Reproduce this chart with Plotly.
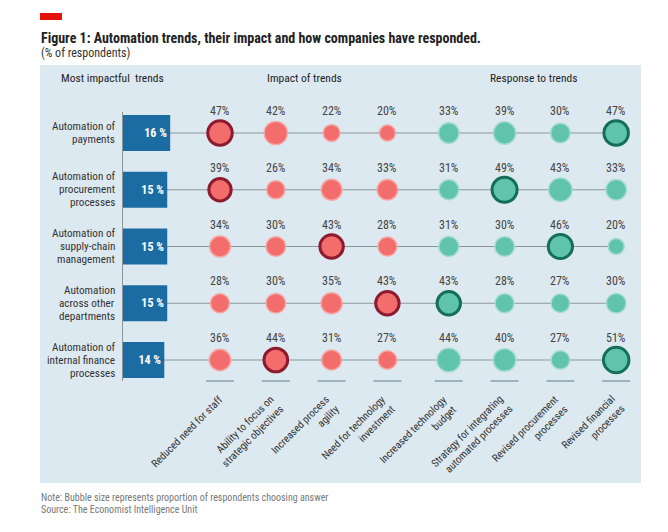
import plotly.graph_objects as go

# The page body has an 8px margin; figure is sized/placed to compensate.
PAGE_W, PAGE_H, OFF = 668, 532, 8
W, H = PAGE_W - 2 * OFF, PAGE_H - 2 * OFF
FONT = "Liberation Sans Narrow, Roboto Condensed, Lato, sans-serif"

# ---------------- data ----------------
row_labels = [
    ["Automation of", "payments"],
    ["Automation of", "procurement", "processes"],
    ["Automation of", "supply-chain", "management"],
    ["Automation", "across other", "departments"],
    ["Automation of", "internal finance", "processes"],
]
top_trend_pct = [16, 15, 15, 15, 14]

impact_cols = [
    "Reduced need for staff",
    "Ability to focus on<br>strategic objectives",
    "Increased process<br>agility",
    "Need for technology<br>investment",
]
response_cols = [
    "Increased technology<br>budget",
    "Strategy for integrating<br>automated processes",
    "Revised procurement<br>processes",
    "Revised financial<br>processes",
]
impact_vals = [
    [47, 42, 22, 20],
    [39, 26, 34, 33],
    [34, 30, 43, 28],
    [28, 30, 35, 43],
    [36, 44, 31, 27],
]
response_vals = [
    [33, 39, 30, 47],
    [31, 49, 43, 33],
    [31, 30, 46, 20],
    [43, 28, 27, 30],
    [44, 40, 27, 51],
]

headers = ["Most impactful  trends", "Impact of trends", "Response to trends"]
title = "Figure 1: Automation trends, their impact and how companies have responded."
subtitle = "(% of respondents)"
notes = ["Note: Bubble size represents proportion of respondents choosing answer",
         "Source: The Economist Intelligence Unit"]

# ---------------- styling ----------------
PANEL = "#dde9f1"
BAR = "#1c6ca4"
RED_FILL, RED_HALO, RED_DARK = "#f26d6c", "#f6a7a4", "#8d1b2f"
TEAL_FILL, TEAL_HALO, TEAL_DARK = "#5fc3ae", "#a3dbcd", "#146e5b"
LINE = "#8c959c"
GROUP_GAP = 0.1


def px(x):
    return (x - OFF) / W


def py(y):
    return 1 - (y - OFF) / H


n_rows = len(row_labels)
rows = list(range(n_rows))

fig = go.Figure()

groups = [
    (impact_cols, impact_vals, RED_FILL, RED_HALO, RED_DARK, 0.0),
    (response_cols, response_vals, TEAL_FILL, TEAL_HALO, TEAL_DARK, GROUP_GAP),
]
col_positions = []
col_names = []
start = 0
for cols, vals, fill, halo, dark, gap in groups:
    for j, c in enumerate(cols):
        col_positions.append(start + j + gap)
        col_names.append(c)
    start += len(cols)
last_x = col_positions[-1]

# connecting lines
for r in rows:
    fig.add_trace(go.Scatter(x=[-1.5, last_x], y=[r, r], mode="lines",
                             line=dict(color=LINE, width=1), hoverinfo="skip",
                             showlegend=False, xaxis="x", yaxis="y"))

K = 3.57  # px of diameter per sqrt(percent)
SIZEREF = 2 / K ** 2
annotations = []
start = 0
for cols, vals, fill, halo, dark, gap in groups:
    xs, ys, sz, lc, lw = [], [], [], [], []
    for r in rows:
        m = max(vals[r])
        for j, v in enumerate(vals[r]):
            x = start + j + gap
            xs.append(x)
            ys.append(r)
            sz.append(v)
            hi = v == m
            lc.append(dark if hi else halo)
            lw.append(3 if hi else 1.5)
            annotations.append(dict(x=x, y=r, xref="x", yref="y", text=f"{v}%",
                                    showarrow=False, yshift=22,
                                    font=dict(family=FONT, size=12, color="#444")))
    fig.add_trace(go.Scatter(x=xs, y=ys, mode="markers",
                             marker=dict(size=sz, sizemode="area", sizeref=SIZEREF,
                                         opacity=1, color=fill,
                                         line=dict(color=lc, width=lw)),
                             showlegend=False, xaxis="x", yaxis="y"))
    start += len(cols)

# bars
fig.add_trace(go.Bar(x=top_trend_pct, y=rows, orientation="h", width=0.634,
                     marker=dict(color=BAR, line=dict(width=0)),
                     text=[f"<b>{v} %</b>" for v in top_trend_pct], textposition="inside",
                     insidetextanchor="end", constraintext="none",
                     textfont=dict(family=FONT, size=12, color="white"),
                     showlegend=False, xaxis="x2", yaxis="y"))

# row labels (one annotation per line)
LH = 13
for r, lines in enumerate(row_labels):
    n = len(lines)
    for k, t in enumerate(lines):
        annotations.append(dict(x=px(117), y=r, xref="paper", yref="y", text=t,
                                xanchor="right", yanchor="middle", showarrow=False,
                                yshift=-(k - (n - 1) / 2) * LH,
                                font=dict(family=FONT, size=11.2, color="#333")))

# column labels, rotated
for x, name in zip(col_positions, col_names):
    nl = name.count("<br>") + 1
    annotations.append(dict(x=x, y=py(390), xref="x", yref="paper", text=name,
                            textangle=-45, xanchor="right", yanchor="top",
                            align="right", showarrow=False,
                            xshift=3.5 + 5 * nl,
                            font=dict(family=FONT, size=10.6, color="#333")))

# headers
for t, x0 in zip(headers, [59, 265, 488]):
    annotations.append(dict(x=px(x0), y=py(78), xref="paper", yref="paper", text=t,
                            xanchor="left", yanchor="middle", showarrow=False,
                            font=dict(family=FONT, size=11.5, color="#222")))

annotations.append(dict(x=px(39), y=py(38), xref="paper", yref="paper",
                        text=f"<b>{title}</b>", xanchor="left", yanchor="middle",
                        showarrow=False, font=dict(family=FONT, size=14, color="#222")))
annotations.append(dict(x=px(39), y=py(53), xref="paper", yref="paper", text=subtitle,
                        xanchor="left", yanchor="middle", showarrow=False,
                        font=dict(family=FONT, size=12, color="#333")))
for t, y in zip(notes, [497, 509]):
    annotations.append(dict(x=px(39), y=py(y), xref="paper", yref="paper", text=t,
                            xanchor="left", yanchor="middle", showarrow=False,
                            font=dict(family=FONT, size=10, color="#777")))

shapes = [
    dict(type="rect", xref="paper", yref="paper", x0=px(40), x1=px(641),
         y0=py(483), y1=py(65), fillcolor=PANEL, line=dict(width=0), layer="below"),
    dict(type="rect", xref="paper", yref="paper", x0=px(40), x1=px(62),
         y0=py(20), y1=py(13), fillcolor="#e3120b", line=dict(width=0), layer="below"),
]
for x in col_positions:
    shapes.append(dict(type="line", xref="x", yref="paper", x0=x - 0.25, x1=x + 0.25,
                       y0=py(381), y1=py(381), line=dict(color="#9db2c1", width=2)))

# axis geometry (reference pixel coordinates)
DOM_L, DOM_R = 123, 640
col_px = 55.8
r0 = -(220 - DOM_L) / col_px
r1 = r0 + (DOM_R - DOM_L) / col_px
bar_px = 2.95
ROW_TOP, ROW_BOT = 112, 381

fig.update_layout(
    width=W, height=H, margin=dict(l=0, r=0, t=0, b=0),
    paper_bgcolor="white", plot_bgcolor="rgba(0,0,0,0)",
    xaxis=dict(domain=[px(DOM_L), px(DOM_R)], range=[r0, r1], visible=False,
               fixedrange=True),
    xaxis2=dict(overlaying="x", range=[0, (DOM_R - DOM_L) / bar_px], visible=False,
                fixedrange=True),
    yaxis=dict(domain=[py(ROW_BOT), py(ROW_TOP)], range=[4.37, -0.37],
               showticklabels=False, showgrid=False, zeroline=False,
               showline=True, linecolor="#8c959c", linewidth=1, ticks="",
               anchor="x", fixedrange=True),
    annotations=annotations, shapes=shapes, showlegend=False,
)

fig.write_html("out.html")
